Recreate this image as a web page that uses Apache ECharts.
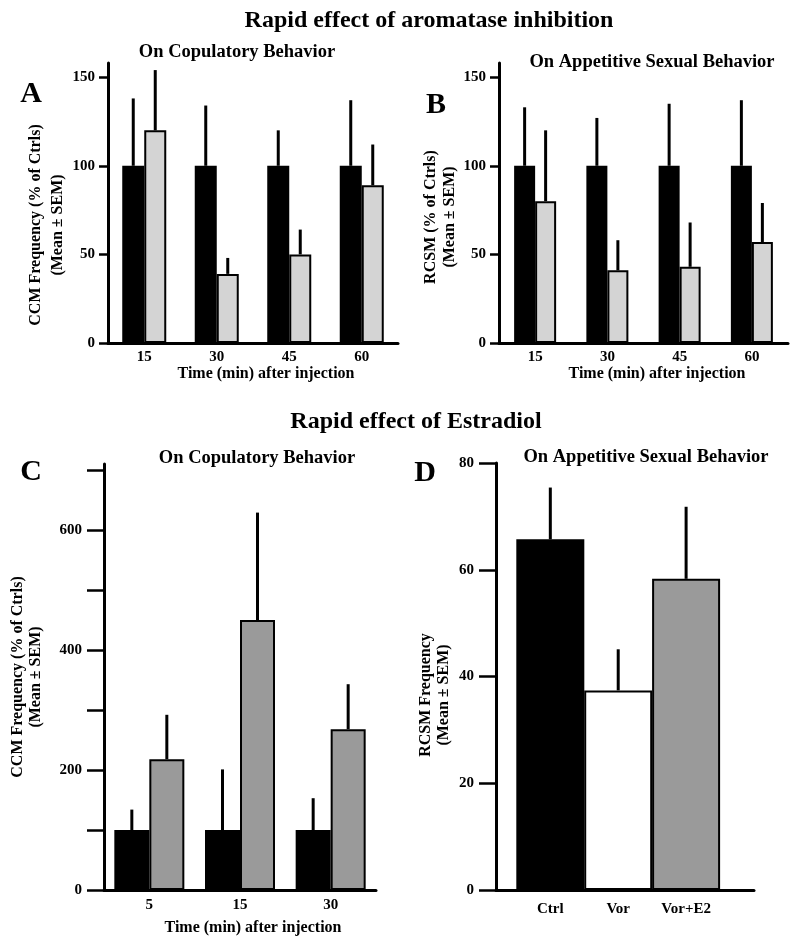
<!DOCTYPE html>
<html><head><meta charset="utf-8">
<script src="https://cdn.jsdelivr.net/npm/echarts@6/dist/echarts.min.js"></script>
<style>html,body{margin:0;padding:0;background:#fff}#c{width:800px;height:949px}</style>
</head><body><div id="c"></div>
<script>
// ---- data ----
const timesAB = ['15', '30', '45', '60'];
const aCtrlMean = [100, 100, 100, 100];
const aCtrlSem = [38, 34, 20, 37];
const aVorMean = [120, 39, 50, 89];
const aVorSem = [34, 9, 14, 23];
const bCtrlMean = [100, 100, 100, 100];
const bCtrlSem = [33, 27, 35, 37];
const bVorMean = [80, 41, 43, 57];
const bVorSem = [40, 17, 25, 22];
const timesC = ['5', '15', '30'];
const cCtrlMean = [100, 100, 100];
const cCtrlSem = [34, 101, 53];
const cE2Mean = [218, 450, 268];
const cE2Sem = [74, 179, 75];
const groupsD = ['Ctrl', 'Vor', 'Vor+E2'];
const dMean = [65.7, 37.4, 58.3];
const dSem = [9.7, 7.7, 13.5];
const ticksAB = [0, 50, 100, 150];
const labelsC = [0, 200, 400, 600];
const ticksC = [0, 100, 200, 300, 400, 500, 600, 700];
const ticksD = [0, 20, 40, 60, 80];

// ---- styles ----
const FONT = 'Liberation Serif';
const BLACK = '#000';
const LIGHT = '#d4d4d4';
const MID = '#9a9a9a';
const dColors = [BLACK, '#ffffff', MID];

const txt = (size) => ({ fontFamily: FONT, fontWeight: 'bold', fontSize: size, color: '#000' });

function xCat(i, data, labelMargin, name, nameGap, namePadLeft) {
  return {
    type: 'category', gridIndex: i, data: data,
    axisLine: { lineStyle: { color: '#000', width: 3 } },
    axisTick: { show: false },
    axisLabel: Object.assign(txt(15), { margin: labelMargin }),
    splitLine: { show: false },
    name: name, nameLocation: 'middle', nameGap: nameGap,
    nameTextStyle: Object.assign(txt(16), { padding: [0, 0, 0, namePadLeft] })
  };
}
function yVal(i, max, tickVals, labelVals, tickLen, labelMargin, name, nameGap, padRight, lineHeight) {
  return {
    type: 'value', gridIndex: i, min: 0, max: max,
    axisLine: { show: true, lineStyle: { color: '#000', width: 3 } },
    axisTick: { show: true, length: tickLen, customValues: tickVals, lineStyle: { color: '#000', width: 2.5 } },
    axisLabel: Object.assign(txt(15), { margin: labelMargin, customValues: labelVals }),
    splitLine: { show: false },
    name: name, nameLocation: 'middle', nameGap: nameGap, nameRotate: 90,
    nameTextStyle: Object.assign(txt(16), { lineHeight: lineHeight, padding: [0, padRight, 0, 0] })
  };
}
function bar(i, means, color, width) {
  return {
    type: 'bar', xAxisIndex: i, yAxisIndex: i, data: means, barWidth: width, barGap: '0%',
    itemStyle: { color: color, borderColor: '#000', borderWidth: 2 }, silent: true
  };
}
function err(i, means, sems, off) {
  return {
    type: 'custom', xAxisIndex: i, yAxisIndex: i, z: 5, silent: true,
    data: means.map((m, k) => [k, m, m + sems[k]]),
    renderItem(params, api) {
      const a = api.coord([api.value(0), api.value(1)]);
      const b = api.coord([api.value(0), api.value(2)]);
      return { type: 'line', shape: { x1: a[0] + off, y1: a[1], x2: b[0] + off, y2: b[1] },
               style: { stroke: '#000', lineWidth: 3 } };
    }
  };
}
function label(text, x, y, size) {
  return { type: 'text', x: x, y: y, silent: true,
    style: { text: text, font: 'bold ' + size + 'px "' + FONT + '"', fill: '#000',
             align: 'center', verticalAlign: 'middle', textAlign: 'center', textVerticalAlign: 'middle' } };
}

const chart = echarts.init(document.getElementById('c'), null, { renderer: 'canvas' });
chart.setOption({
  animation: false,
  backgroundColor: '#fff',
  grid: [
    { left: 108, top: 63, width: 290, height: 280 },
    { left: 499, top: 63, width: 289, height: 280 },
    { left: 104, top: 464, width: 272, height: 426 },
    { left: 496, top: 463, width: 258, height: 427 }
  ],
  xAxis: [
    xCat(0, timesAB, 7, 'Time (min) after injection', 22, 26),
    xCat(1, timesAB, 7, 'Time (min) after injection', 22, 27),
    xCat(2, timesC, 8, 'Time (min) after injection', 30, 26),
    {
      type: 'value', gridIndex: 3, min: 0.2, max: 4,
      axisLine: { lineStyle: { color: '#000', width: 3 } },
      axisTick: { show: false },
      axisLabel: Object.assign(txt(15), { margin: 12, customValues: [1, 2, 3],
        formatter: (v) => groupsD[Math.round(v) - 1] }),
      splitLine: { show: false }
    }
  ],
  yAxis: [
    yVal(0, 158, ticksAB, ticksAB, 9, 13, 'CCM Frequency (% of Ctrls)\n(Mean ± SEM)', 36, 44, 22),
    yVal(1, 158, ticksAB, ticksAB, 9, 13, 'RCSM (% of Ctrls)\n(Mean ± SEM)', 33, 28, 19),
    yVal(2, 710, ticksC, labelsC, 17, 22, 'CCM Frequency (% of Ctrls)\n(Mean ± SEM)', 59, 0, 18),
    yVal(3, 80, ticksD, ticksD, 17, 22, 'RCSM Frequency\n(Mean ± SEM)', 43, 37, 18)
  ],
  series: [
    bar(0, aCtrlMean, BLACK, 22), bar(0, aVorMean, LIGHT, 22),
    err(0, aCtrlMean, aCtrlSem, -11), err(0, aVorMean, aVorSem, 11),
    bar(1, bCtrlMean, BLACK, 21), bar(1, bVorMean, LIGHT, 21),
    err(1, bCtrlMean, bCtrlSem, -10.5), err(1, bVorMean, bVorSem, 10.5),
    bar(2, cCtrlMean, BLACK, 35), bar(2, cE2Mean, MID, 35),
    err(2, cCtrlMean, cCtrlSem, -17.5), err(2, cE2Mean, cE2Sem, 17.5),
    {
      type: 'bar', xAxisIndex: 3, yAxisIndex: 3, barWidth: 68, silent: true,
      data: groupsD.map((g, k) => ({ value: [k + 1, dMean[k]], itemStyle: { color: dColors[k] } })),
      itemStyle: { borderColor: '#000', borderWidth: 2 }
    },
    {
      type: 'custom', xAxisIndex: 3, yAxisIndex: 3, z: 5, silent: true,
      data: dMean.map((m, k) => [k + 1, m, m + dSem[k]]),
      renderItem(params, api) {
        const a = api.coord([api.value(0), api.value(1)]);
        const b = api.coord([api.value(0), api.value(2)]);
        return { type: 'line', shape: { x1: a[0], y1: a[1], x2: b[0], y2: b[1] },
                 style: { stroke: '#000', lineWidth: 3 } };
      }
    }
  ],
  graphic: [
    label('Rapid effect of aromatase inhibition', 429, 21, 24),
    label('Rapid effect of Estradiol', 416, 422, 24),
    label('On Copulatory Behavior', 237, 52, 18.5),
    label('On Appetitive Sexual Behavior', 652, 62, 18.5),
    label('On Copulatory Behavior', 257, 458, 18.5),
    label('On Appetitive Sexual Behavior', 646, 457, 18.5),
    label('A', 31, 94, 30),
    label('B', 436, 105, 30),
    label('C', 31, 472, 30),
    label('D', 425, 473, 30)
  ]
});
</script></body></html>
